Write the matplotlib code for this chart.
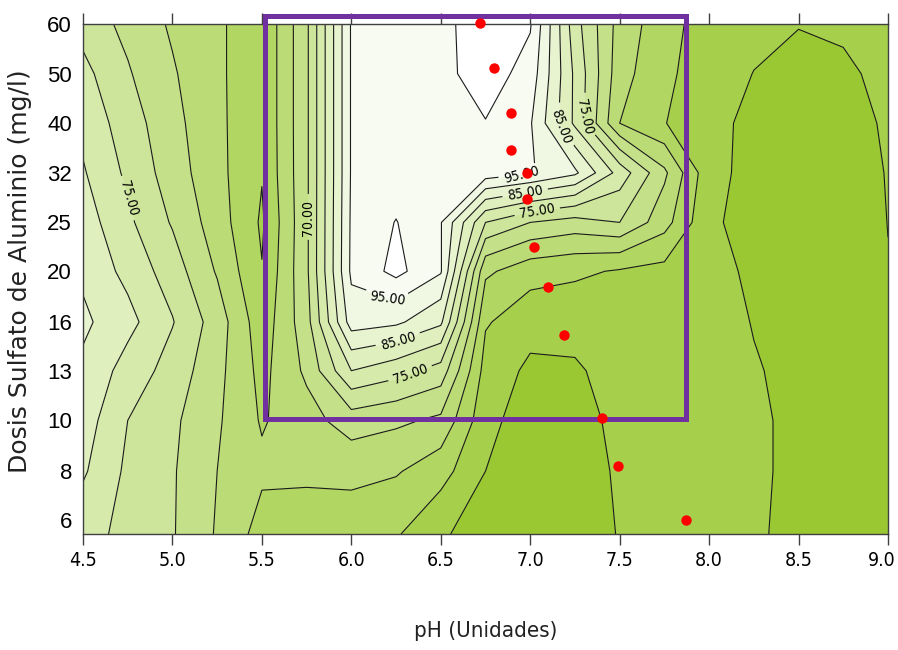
import matplotlib
matplotlib.use('Agg')
import matplotlib.pyplot as plt
from matplotlib import font_manager
from matplotlib.font_manager import FontProperties
from matplotlib.patches import Rectangle
from matplotlib.ticker import FixedLocator, NullFormatter
from matplotlib.transforms import ScaledTranslation

# pH grid (columns) and alum dose grid (rows, mg/l)
ph = [4.5, 4.75, 5.0, 5.25, 5.5, 5.75, 6.0, 6.25, 6.5, 6.75, 7.0,
      7.25, 7.5, 7.75, 8.0, 8.25, 8.5, 8.75, 9.0]
dose = [5.9, 7.9, 10.0, 12.6, 15.8, 20.0, 25.1, 31.6, 39.8, 50.1, 63.1]

# removal (%), one row per dose
z = [
    [77, 73.5, 70.4, 64.5, 58, 57.5, 57, 55.5, 51, 46.5, 46, 47, 50.3, 52.5, 52.5, 50.5, 49, 48, 48],
    [80.7, 74, 70.5, 65, 61, 61, 61.5, 60.5, 57, 50, 46.5, 47.5, 50.7, 52.5, 52.5, 50.6, 49.2, 48, 48],
    [82.5, 75, 71, 65.7, 59.5, 63, 67.5, 66, 64, 51.5, 47.5, 48.5, 51, 52.5, 52.5, 50.6, 49.2, 48, 48],
    [84, 78, 73, 66.5, 58.5, 66, 80, 77, 73, 53, 49, 49.5, 51.5, 52.5, 52.5, 50.3, 49, 48, 48.5],
    [86, 81.6, 75.3, 67.6, 57, 68, 92.5, 91, 86, 55.5, 52, 51.5, 52.5, 53, 52, 49.8, 48, 48, 49],
    [84, 78.5, 72.5, 64.5, 55.2, 69, 96, 101.5, 95.5, 61, 57, 56, 54.5, 53.5, 51.3, 49.3, 47.5, 48, 49.9],
    [82.5, 76, 69.5, 62.5, 54.3, 69, 95.8, 100.2, 95.3, 75, 70, 68, 70, 62, 50.7, 48.5, 47.5, 48, 50.05],
    [80.5, 74, 67.5, 61.5, 55.3, 69, 95.5, 97, 98, 98, 95.5, 91, 78, 66, 51.5, 48.5, 47.5, 48, 50.2],
    [78.5, 72.5, 66.5, 61.3, 55.5, 69, 95.5, 97, 98, 99.8, 95.5, 79, 60, 55.2, 51.2, 49, 48, 48.5, 50.5],
    [76.5, 70.5, 65.5, 61.2, 55.5, 69, 95.5, 97, 98.5, 102.5, 98, 79, 62, 56, 52.5, 49.9, 48.5, 49, 51.5],
    [73, 68.6, 64.3, 61.2, 55.5, 69, 95.5, 97, 98.5, 103, 100.5, 77, 63, 57, 52.5, 51.5, 50.2, 51, 52],
]

levels = [45, 50, 55, 60, 65, 70, 75, 80, 85, 90, 95, 100, 105]
band_colors = ['#9AC833', '#A6D04C', '#B1D662', '#BBDB76', '#C4E088', '#CDE59A',
               '#D6EAAC', '#DFEFBE', '#E8F3D0', '#F0F7E2', '#F7FBF1', '#FFFFFF']

# red points (optimum path)
pts_ph = [6.72, 6.80, 6.89, 6.89, 6.98, 6.98, 7.02, 7.10, 7.19, 7.40, 7.49, 7.87]
pts_dose = [63.4, 51.5, 41.7, 35.1, 31.6, 28.0, 22.4, 18.6, 14.9, 10.1, 8.1, 6.3]

x_ticks = [4.5, 5.0, 5.5, 6.0, 6.5, 7.0, 7.5, 8.0, 8.5, 9.0]
x_labels = ['4.5', '5.0', '5.5', '6.0', '6.5', '7.0', '7.5', '8.0', '8.5', '9.0']
y_ticks = [6.3, 7.9, 10.0, 12.6, 15.8, 20.0, 25.1, 31.6, 39.8, 50.1, 63.1]
y_labels = ['6', '8', '10', '13', '16', '20', '25', '32', '40', '50', '60']

# where the contour labels sit (pH, dose)
label_pos = [(4.72, 27.9), (5.77, 25.6), (6.2, 17.5), (6.27, 14.2), (6.33, 12.4),
             (6.95, 31.3), (6.97, 29.0), (7.04, 26.2), (7.16, 39.0), (7.31, 41.0)]

# look for a narrow / condensed face for the numeric labels
cond_file = None
for f in font_manager.fontManager.ttflist:
    nm = f.name + ' ' + f.fname
    if f.style != 'normal':
        continue
    if ('Narrow' in nm or 'Condensed' in nm or f.stretch in ('condensed', 'semi-condensed')) \
            and f.weight in (400, 'normal', 'regular', 'Regular'):
        cond_file = f.fname
        break


def cond(size):
    if cond_file:
        return FontProperties(fname=cond_file, size=size)
    return FontProperties(family='DejaVu Sans', size=size * 0.85)


fig = plt.figure(figsize=(8.98, 6.5), dpi=100)
ax = fig.add_axes([83/898, 1 - 534/650, 805/898, 510/650])
ax.set_yscale('log')

ax.contourf(ph, dose, z, levels=levels, colors=band_colors)
cs = ax.contour(ph, dose, z, levels=levels[1:-1], colors='#1a1a1a', linewidths=0.8)
lbls = ax.clabel(cs, fmt='%.2f', manual=label_pos, inline=True, fontsize=9)
for t in lbls:
    t.set_fontproperties(cond(10))
    t.set_color('black')

ax.add_patch(Rectangle((5.52, 10.05), 7.87 - 5.52, 65.5 - 10.05, fill=False,
                       ec='#7030A0', lw=3.6, clip_on=False, zorder=4))
ax.plot(pts_ph, pts_dose, 'o', color='#FF0000', ms=7.5, mec='none',
        clip_on=False, zorder=5)

ax.set_xlim(4.5, 9.0)
ax.set_ylim(5.9, 63.1)
ax.set_xticks(x_ticks)
ax.set_xticklabels(x_labels)
ax.tick_params(axis='x', direction='out', length=8, width=1, color='#404040',
               top=True, pad=4)
for t in ax.get_xticklabels():
    t.set_fontproperties(cond(14))
# pull the last label in a little so it stays inside the picture
last = ax.get_xticklabels()[-1]
last.set_transform(last.get_transform() + ScaledTranslation(-6/100, 0, fig.dpi_scale_trans))

ax.yaxis.set_major_locator(FixedLocator(y_ticks))
ax.set_yticklabels(y_labels, family='Liberation Sans', fontsize=16)
ax.yaxis.set_minor_locator(FixedLocator([10.0, 31.6, 63.1]))
ax.yaxis.set_minor_formatter(NullFormatter())
ax.tick_params(axis='y', which='major', length=0, pad=8)
ax.tick_params(axis='y', which='minor', length=5, width=1, color='#404040',
               left=True, right=True)
for s in ax.spines.values():
    s.set_color('#404040')
    s.set_linewidth(1)

fig.text(20/898, 1 - 271/650, 'Dosis Sulfato de Aluminio (mg/l)', rotation=90,
         ha='center', va='center', fontsize=18, family='DejaVu Sans', color='#222222')
fig.text(486/898, 1 - 631/650, 'pH (Unidades)', ha='center', va='center',
         fontproperties=cond(16), color='#222222')

fig.savefig('out.png', dpi=100)
